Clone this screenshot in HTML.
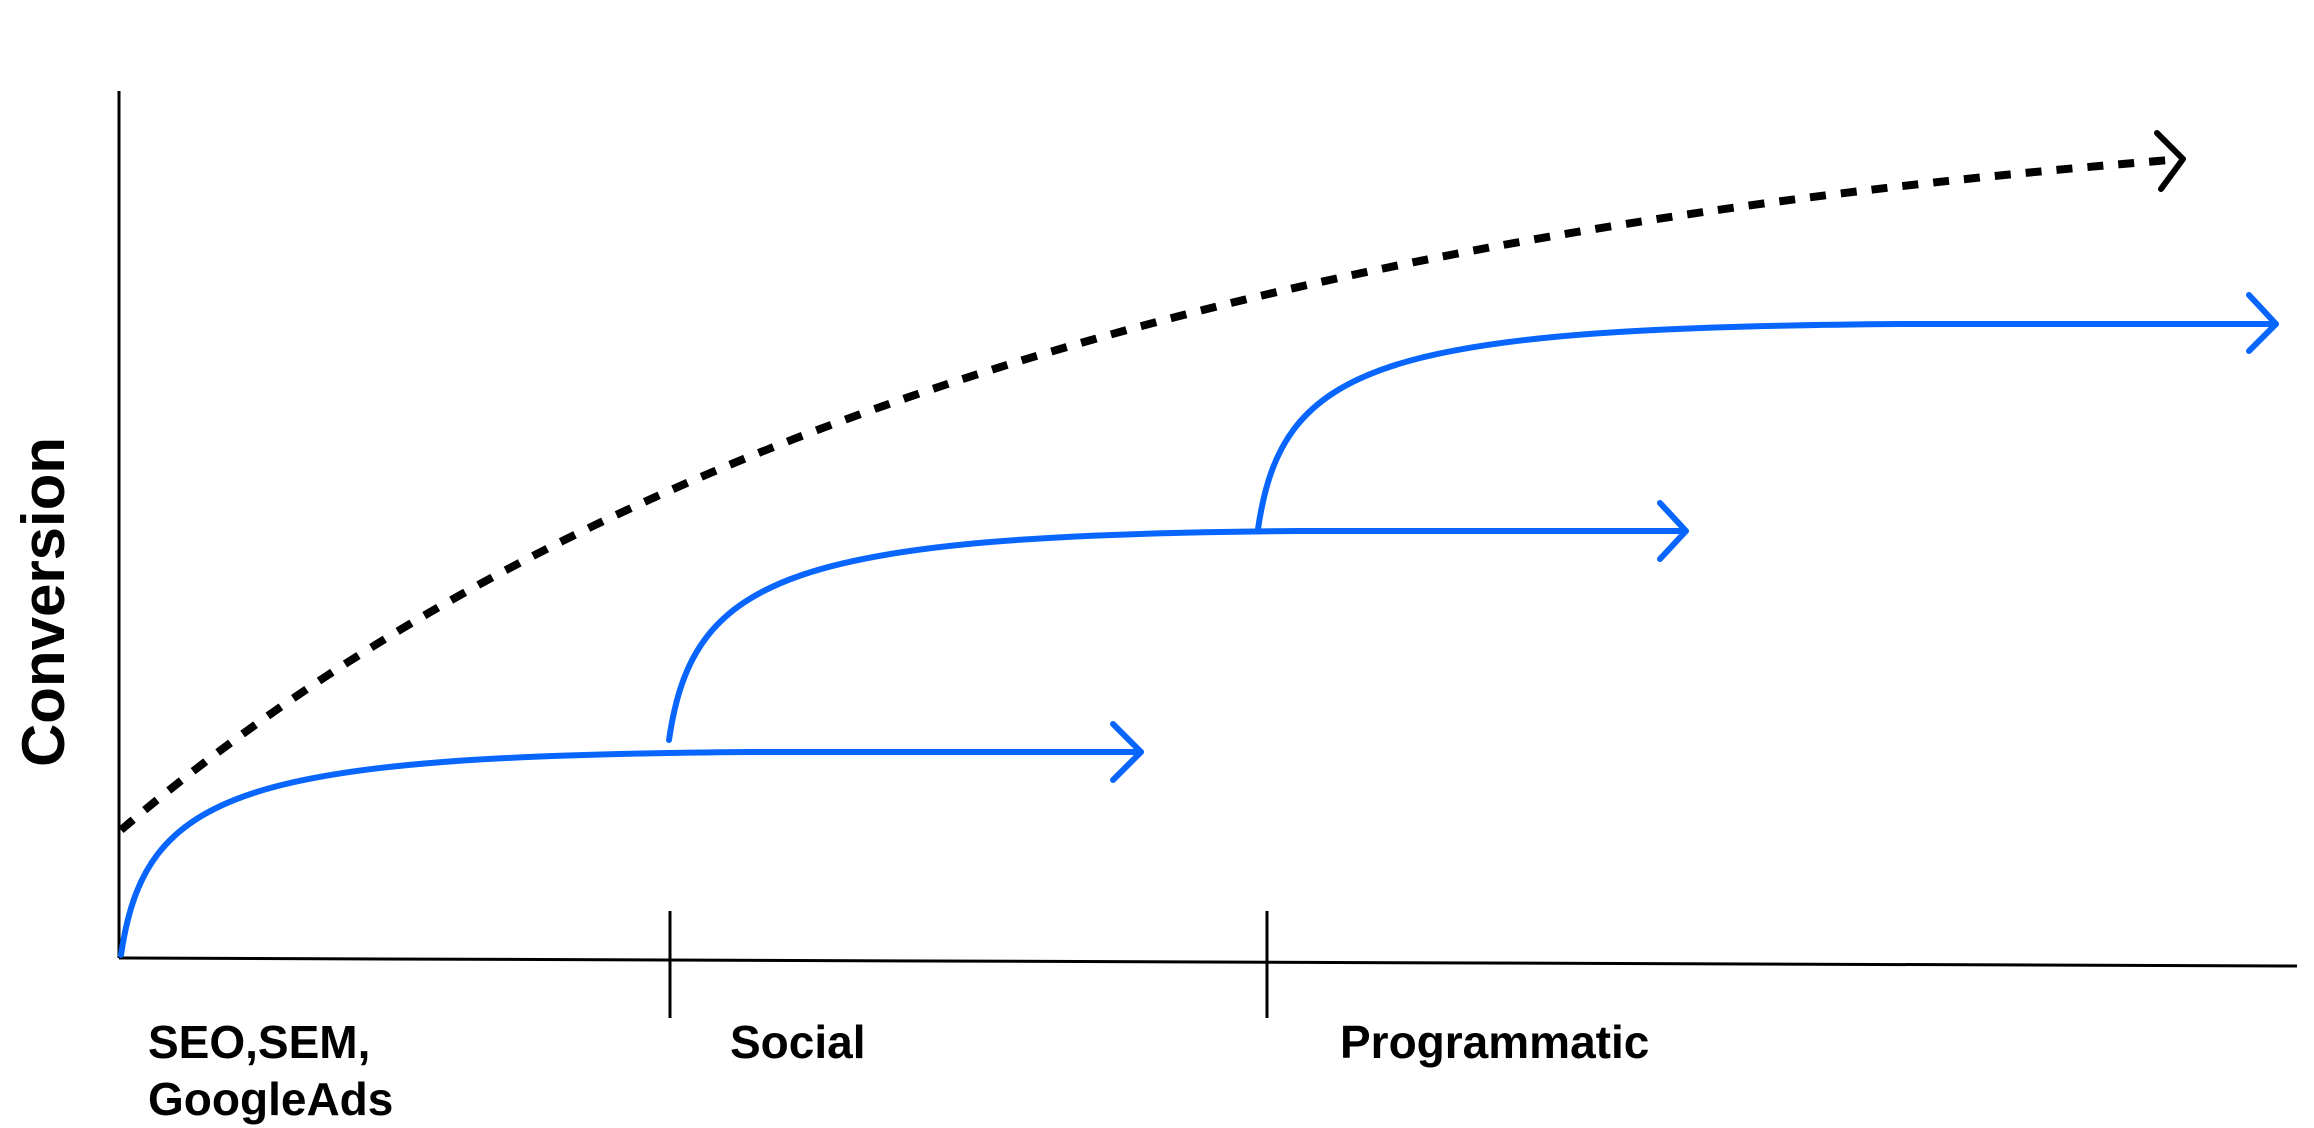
<!DOCTYPE html>
<html><head><meta charset="utf-8"><style>
html,body{margin:0;padding:0;background:#fff;}
svg{display:block;}
text{font-family:"Liberation Sans",sans-serif;font-weight:bold;fill:#000;}
</style></head><body>
<svg width="2314" height="1128" viewBox="0 0 2314 1128" xmlns="http://www.w3.org/2000/svg">
<line x1="119" y1="91" x2="119" y2="958" stroke="#000" stroke-width="3"/>
<line x1="119" y1="958" x2="2297" y2="966" stroke="#000" stroke-width="3"/>
<line x1="670" y1="911" x2="670" y2="1018" stroke="#000" stroke-width="3"/>
<line x1="1267" y1="911" x2="1267" y2="1018" stroke="#000" stroke-width="3"/>
<path d="M121,830 C 600,420 1300,230 2170,160" fill="none" stroke="#000" stroke-width="8" stroke-dasharray="16 15"/>
<polyline points="2157,133 2183,159 2161,189" fill="none" stroke="#000" stroke-width="6" stroke-linecap="round" stroke-linejoin="round"/>
<g fill="none" stroke="#0866ff" stroke-width="6" stroke-linecap="round" stroke-linejoin="round">
<path d="M121,955 C 145,790 240,756 750,752 L 1141,752"/>
<polyline points="1113,724 1141,752 1113,780"/>
<path d="M669,740 C 693,575 788,535 1300,531 L 1686,531"/>
<polyline points="1660,503 1686,531 1660,559"/>
<path d="M1258,529 C 1282,364 1377,328 1900,324 L 2276,324"/>
<polyline points="2249,295 2276,324 2249,351"/>
</g>
<text x="148" y="1058" font-size="46">SEO,SEM,</text>
<text x="148" y="1115" font-size="46">GoogleAds</text>
<text x="730" y="1058" font-size="46">Social</text>
<text x="1340" y="1058" font-size="46">Programmatic</text>
<text transform="translate(64,602) rotate(-90)" text-anchor="middle" font-size="60">Conversion</text>
</svg>
</body></html>
